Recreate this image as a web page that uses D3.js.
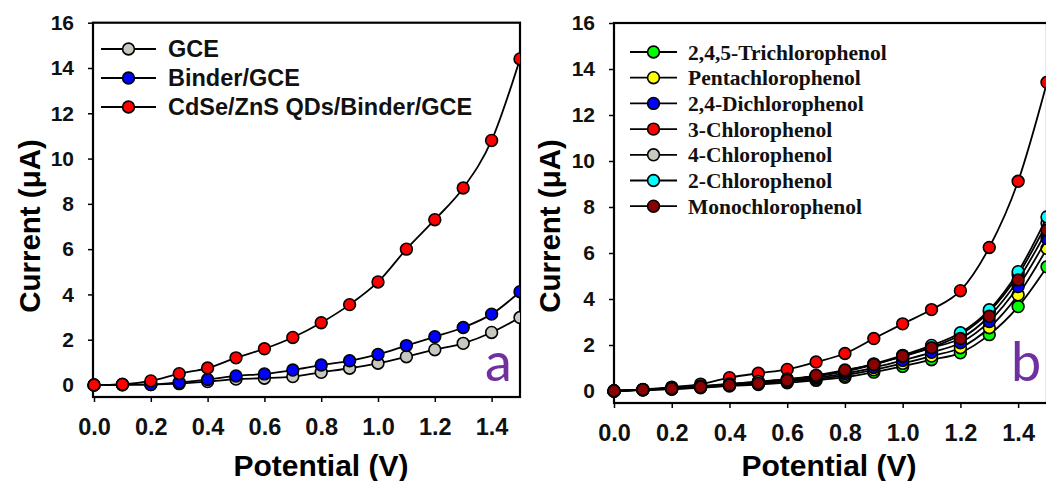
<!DOCTYPE html>
<html>
<head>
<meta charset="utf-8">
<script src="https://cdn.jsdelivr.net/npm/d3@7"></script>
<style>
  body { margin: 0; background: #fff; }
  svg { display: block; }
</style>
</head>
<body>
<div id="chart"></div>
<script>
// potentials (V), shared by both panels
var potentials = [0.0, 0.1, 0.2, 0.3, 0.4, 0.5, 0.6, 0.7, 0.8, 0.9, 1.0, 1.1, 1.2, 1.3, 1.4, 1.5];

// panel a - electrodes
var labelsA = ["GCE", "Binder/GCE", "CdSe/ZnS QDs/Binder/GCE"];
var colorsA = ["#c8c8c0", "#0000ff", "#ff0000"];
var gce      = [0, 0.01, 0.02, 0.06, 0.15, 0.26, 0.30, 0.37, 0.56, 0.74, 0.96, 1.25, 1.56, 1.84, 2.32, 2.98];
var binder   = [0, 0.01, 0.02, 0.12, 0.24, 0.40, 0.49, 0.66, 0.88, 1.07, 1.35, 1.74, 2.13, 2.54, 3.13, 4.12];
var qdBinder = [0, 0.03, 0.18, 0.50, 0.75, 1.20, 1.60, 2.10, 2.75, 3.55, 4.55, 6.00, 7.30, 8.70, 10.8, 14.4];

// panel b - chlorophenols
var labelsB = ["2,4,5-Trichlorophenol", "Pentachlorophenol", "2,4-Dichlorophenol",
               "3-Chlorophenol", "4-Chlorophenol", "2-Chlorophenol", "Monochlorophenol"];
var colorsB = ["#00ff00", "#ffff00", "#0000ff", "#ff0000", "#c8c8c0", "#00ffff", "#8b0000"];
var trichloro  = [0, 0.04, 0.08, 0.14, 0.22, 0.28, 0.36, 0.46, 0.60, 0.82, 1.07, 1.36, 1.66, 2.45, 3.67, 5.40];
var pentachloro = [0, 0.05, 0.09, 0.16, 0.25, 0.32, 0.41, 0.52, 0.68, 0.92, 1.20, 1.52, 1.88, 2.75, 4.18, 6.20];
var dichloro   = [0, 0.05, 0.10, 0.18, 0.27, 0.35, 0.45, 0.58, 0.76, 1.02, 1.33, 1.68, 2.10, 3.02, 4.54, 6.63];
var chloro3    = [0, 0.07, 0.17, 0.30, 0.58, 0.77, 0.94, 1.26, 1.63, 2.28, 2.92, 3.54, 4.36, 6.24, 9.12, 13.42];
var chloro4    = [0, 0.06, 0.12, 0.20, 0.30, 0.40, 0.50, 0.64, 0.85, 1.15, 1.50, 1.90, 2.45, 3.45, 5.05, 7.30];
var chloro2    = [0, 0.06, 0.12, 0.21, 0.31, 0.41, 0.52, 0.66, 0.88, 1.18, 1.55, 1.98, 2.53, 3.53, 5.19, 7.57];
var monochloro = [0, 0.06, 0.10, 0.17, 0.26, 0.33, 0.46, 0.68, 0.91, 1.15, 1.52, 1.88, 2.28, 3.25, 4.83, 6.99];

var yTicks = [0, 2, 4, 6, 8, 10, 12, 14, 16];
var xTicks = [0.0, 0.2, 0.4, 0.6, 0.8, 1.0, 1.2, 1.4];

var svg = d3.select("#chart").append("svg")
    .attr("width", 1046)
    .attr("height", 481);

var sans = "'Liberation Sans', Arial, sans-serif";
var serif = "'Liberation Serif', 'Times New Roman', serif";

// draws one panel; box = pixel box of the plotting frame
function drawPanel(box, series, labels, colors, legend, letter) {
    var x = d3.scaleLinear().domain([0, 1.5]).range([box.x0, box.x15]);
    var y = d3.scaleLinear().domain([0, 16]).range([box.y0, box.y16]);

    var g = svg.append("g");

    // frame
    g.append("rect")
        .attr("x", box.left).attr("y", y(16))
        .attr("width", box.right - box.left)
        .attr("height", box.bottom - y(16))
        .attr("fill", "none")
        .attr("stroke", "#000")
        .attr("stroke-width", 2.2);

    // y-axis
    var ya = g.append("g")
        .attr("transform", "translate(" + box.left + ",0)")
        .call(d3.axisLeft(y).tickValues(yTicks).tickSize(5).tickPadding(14).tickFormat(d3.format("d")));
    ya.select(".domain").remove();
    ya.selectAll("line").attr("stroke-width", 1.5);
    ya.selectAll("text")
        .style("font-family", sans).style("font-weight", "bold").style("font-size", "21px").attr("fill", "#111");

    // x-axis
    var xa = g.append("g")
        .attr("transform", "translate(0," + box.bottom + ")")
        .call(d3.axisBottom(x).tickValues(xTicks).tickSize(5).tickPadding(16).tickFormat(d3.format(".1f")));
    xa.select(".domain").remove();
    xa.selectAll("line").attr("stroke-width", 1.5);
    xa.selectAll("text")
        .style("font-family", sans).style("font-weight", "bold").style("font-size", "23.5px").attr("fill", "#111");

    // axis titles
    g.append("text")
        .attr("transform", "translate(" + box.ytitleX + ",226) rotate(-90)")
        .attr("text-anchor", "middle")
        .style("font-family", sans).style("font-weight", "bold").style("font-size", "29.5px")
        .text("Current (\u03bcA)");

    g.append("text")
        .attr("x", box.xtitleX).attr("y", 476)
        .attr("text-anchor", "middle")
        .style("font-family", sans).style("font-weight", "bold").style("font-size", "30px")
        .text("Potential (V)");

    // curves and markers
    var line = d3.line()
        .x(function(d, i) { return x(potentials[i]); })
        .y(function(d) { return y(d); })
        .curve(d3.curveMonotoneX);

    var clip = "clip-" + letter;
    svg.append("clipPath").attr("id", clip)
        .append("rect").attr("x", 0).attr("y", 0).attr("width", box.right).attr("height", 481);

    var plot = g.append("g").attr("clip-path", "url(#" + clip + ")");

    series.forEach(function(s, k) {
        plot.append("path")
            .attr("d", line(s))
            .attr("fill", "none")
            .attr("stroke", "#000")
            .attr("stroke-width", 1.8);
        plot.selectAll(null).data(s).enter().append("circle")
            .attr("cx", function(d, i) { return x(potentials[i]); })
            .attr("cy", function(d) { return y(d); })
            .attr("r", 5.9)
            .attr("fill", colors[k])
            .attr("stroke", "#000")
            .attr("stroke-width", 1.6);
    });

    // legend
    var lg = g.append("g");
    labels.forEach(function(name, k) {
        var ry = legend.top + k * legend.step;
        lg.append("line")
            .attr("x1", legend.x1).attr("x2", legend.x2)
            .attr("y1", ry).attr("y2", ry)
            .attr("stroke", "#000").attr("stroke-width", 1.8);
        lg.append("circle")
            .attr("cx", (legend.x1 + legend.x2) / 2).attr("cy", ry)
            .attr("r", 5.9)
            .attr("fill", colors[k])
            .attr("stroke", "#000").attr("stroke-width", 1.6);
        lg.append("text")
            .attr("x", legend.tx).attr("y", ry)
            .attr("dy", "0.35em")
            .style("font-family", legend.font)
            .style("font-weight", "bold")
            .style("font-size", legend.size)
            .attr("fill", "#111")
            .text(name);
    });

    // panel letter
    g.append("text")
        .attr("x", box.letterX).attr("y", 381)
        .style("font-family", "Lato, 'Open Sans', sans-serif")
        .style("font-size", "54px")
        .attr("fill", "#7030a0")
        .text(letter);
}

drawPanel(
    {x0: 94, x15: 520, y0: 385, y16: 22.7, left: 93, right: 520, bottom: 397,
     ytitleX: 40, xtitleX: 321, letterX: 485},
    [gce, binder, qdBinder], labelsA, colorsA,
    {top: 49, step: 29, x1: 101, x2: 156, tx: 168, font: sans, size: "23.5px"},
    "a");

drawPanel(
    {x0: 614, x15: 1047, y0: 391, y16: 23, left: 614, right: 1047, bottom: 403,
     ytitleX: 560, xtitleX: 829, letterX: 1011},
    [trichloro, pentachloro, dichloro, chloro3, chloro4, chloro2, monochloro], labelsB, colorsB,
    {top: 52, step: 25.7, x1: 630, x2: 677, tx: 688, font: serif, size: "21.5px"},
    "b");
</script>
</body>
</html>
